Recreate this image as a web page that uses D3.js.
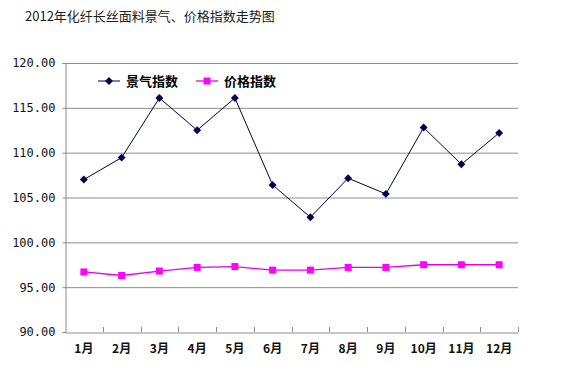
<!DOCTYPE html>
<html lang="zh">
<head>
<meta charset="UTF-8">
<title>景气、价格指数走势图</title>
<style>
  body { margin: 0; padding: 0; background: #fff; }
  svg { display: block; }
  text { font-family: "Noto Sans CJK SC", "DejaVu Sans", sans-serif; }
  .ylab text { font-family: "DejaVu Sans Mono", monospace; }
</style>
</head>
<body>
<script src="https://d3js.org/d3.v7.min.js"></script>
<script>
const width = 574
const height = 375

const months = ['1月', '2月', '3月', '4月', '5月', '6月', '7月', '8月', '9月', '10月', '11月', '12月']
const climate = [107.0, 109.45, 116.1, 112.5, 116.1, 106.4, 102.8, 107.15, 105.4, 112.8, 108.7, 112.2]
const price = [96.7, 96.3, 96.8, 97.2, 97.3, 96.9, 96.9, 97.2, 97.2, 97.5, 97.5, 97.5]
const yTicks = [90, 95, 100, 105, 110, 115, 120]

const margin = { left: 65, right: 56, top: 63, bottom: 43 }

const svg = d3.select('body').append('svg')
    .attr('width', width)
    .attr('height', height)

const x = d3.scaleBand()
    .domain(months)
    .range([margin.left, width - margin.right])

const y = d3.scaleLinear()
    .domain([90, 120])
    .range([height - margin.bottom, margin.top])

// title
svg.append('text')
    .attr('x', 25)
    .attr('y', 21)
    .attr('font-size', 13)
    .attr('fill', '#222')
    .text('2012年化纤长丝面料景气、价格指数走势图')

// grid
svg.append('g')
    .selectAll('line')
    .data(yTicks.slice(1))
    .join('line')
    .attr('x1', margin.left)
    .attr('x2', width - margin.right)
    .attr('y1', d => y(d) + 0.5)
    .attr('y2', d => y(d) + 0.5)
    .attr('stroke', '#8c8c8c')

// y axis
const yAxis = svg.append('g')
    .attr('class', 'ylab')
    .attr('transform', `translate(${margin.left + 0.5},0)`)
    .call(d3.axisLeft(y).tickValues(yTicks).tickSize(3).tickFormat(d3.format('.2f')))
yAxis.select('.domain').attr('stroke', '#8c8c8c')
yAxis.selectAll('.tick line').attr('stroke', '#8c8c8c')
yAxis.selectAll('text')
    .attr('x', -10)
    .attr('font-size', 12)
    .attr('fill', '#111')

// x axis
const xAxis = svg.append('g')
    .attr('transform', `translate(0,${height - margin.bottom + 0.5})`)
    .call(d3.axisBottom(x).tickSize(0))
xAxis.select('.domain').attr('stroke', '#8c8c8c')
xAxis.selectAll('text')
    .attr('y', 12)
    .attr('font-size', 12)
    .attr('font-weight', 'bold')
    .attr('fill', '#111')

// band boundary ticks
svg.append('g')
    .selectAll('line')
    .data(months)
    .join('line')
    .attr('x1', d => Math.round(x(d) + x.bandwidth()) + 0.5)
    .attr('x2', d => Math.round(x(d) + x.bandwidth()) + 0.5)
    .attr('y1', height - margin.bottom)
    .attr('y2', height - margin.bottom - 5)
    .attr('stroke', '#8c8c8c')

const cx = d => x(d) + x.bandwidth() / 2

const line = d3.line()
    .x(d => cx(d[0]))
    .y(d => y(d[1]))

// price series
svg.append('path')
    .datum(months.map((m, i) => [m, price[i]]))
    .attr('d', line)
    .attr('fill', 'none')
    .attr('stroke', '#e600e6')
    .attr('stroke-width', 1.3)

svg.append('g')
    .selectAll('rect')
    .data(months.map((m, i) => [m, price[i]]))
    .join('rect')
    .attr('x', d => cx(d[0]) - 3.5)
    .attr('y', d => y(d[1]) - 3.5)
    .attr('width', 7)
    .attr('height', 7)
    .attr('fill', '#ff00ff')

// climate series
svg.append('path')
    .datum(months.map((m, i) => [m, climate[i]]))
    .attr('d', line)
    .attr('fill', 'none')
    .attr('stroke', '#000040')
    .attr('stroke-width', 1)

const diamond = d3.symbol().type(d3.symbolDiamond2).size(40)
svg.append('g')
    .selectAll('path')
    .data(months.map((m, i) => [m, climate[i]]))
    .join('path')
    .attr('d', diamond)
    .attr('transform', d => `translate(${cx(d[0])},${y(d[1])})`)
    .attr('fill', '#000050')

// legend
const legend = svg.append('g').attr('transform', 'translate(98,81)')
legend.append('line').attr('x1', 0).attr('x2', 22).attr('stroke', '#000040')
legend.append('path').attr('d', diamond).attr('transform', 'translate(11,0)').attr('fill', '#000050')
legend.append('text').attr('x', 28).attr('y', 5).attr('font-size', 13).attr('font-weight', 'bold').text('景气指数')

legend.append('line').attr('x1', 98).attr('x2', 120).attr('stroke', '#e600e6').attr('stroke-width', 1.3)
legend.append('rect').attr('x', 105.5).attr('y', -3.5).attr('width', 7).attr('height', 7).attr('fill', '#ff00ff')
legend.append('text').attr('x', 126).attr('y', 5).attr('font-size', 13).attr('font-weight', 'bold').text('价格指数')
</script>
</body>
</html>
